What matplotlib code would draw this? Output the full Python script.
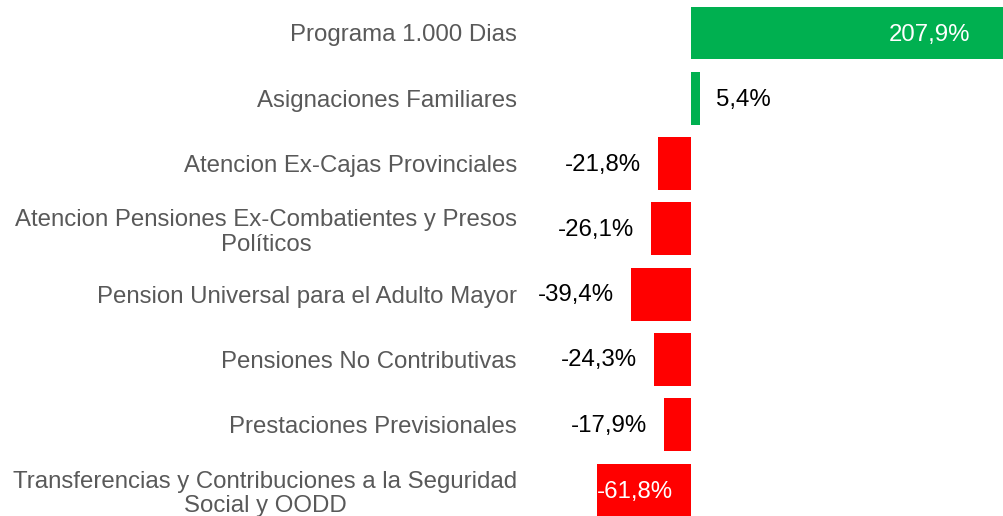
import matplotlib
matplotlib.use('Agg')
matplotlib.rcParams['font.family'] = ['Liberation Sans', 'DejaVu Sans']
import matplotlib.pyplot as plt

# ── data ─────────────────────────────────────────────────────────────────────
categories = [
    'Programa 1.000 Dias',
    'Asignaciones Familiares',
    'Atencion Ex-Cajas Provinciales',
    'Atencion Pensiones Ex-Combatientes y Presos\nPolíticos',
    'Pension Universal para el Adulto Mayor',
    'Pensiones No Contributivas',
    'Prestaciones Previsionales',
    'Transferencias y Contribuciones a la Seguridad\nSocial y OODD',
]
values = [207.9, 5.4, -21.8, -26.1, -39.4, -24.3, -17.9, -61.8]
value_labels = ['207,9%', '5,4%', '-21,8%', '-26,1%', '-39,4%', '-24,3%', '-17,9%', '-61,8%']

_GREEN = '#00B050'
_RED = '#FF0000'
_LABEL_GRAY = '#595959'
FS = 17.3

fig = plt.figure(figsize=(10.04, 5.16), dpi=100)
ax = fig.add_axes([530 / 1004, 0, 474 / 1004, 1])

y_pos = list(range(len(categories)))
colors = [_GREEN if v >= 0 else _RED for v in values]
ax.barh(y_pos, values, height=0.81, color=colors)

# the big green bar runs past the right edge, as in the original
ax.set_xlim(-105.2, 203.6)
ax.set_ylim(7.397, -0.505)

for i, (v, lab) in enumerate(zip(values, value_labels)):
    if i == 0:
        # large positive: white label inside, near the end
        ax.annotate(lab, xy=(v, i), xytext=(-40, -2), textcoords='offset pixels',
                    ha='right', va='center', color='white', fontsize=FS,
                    annotation_clip=False)
    elif v == min(values):
        # longest negative bar: label sits inside from its left edge
        ax.annotate(lab, xy=(v, i), xytext=(0, -2), textcoords='offset pixels',
                    ha='left', va='center', color='white', fontsize=FS)
    elif v >= 0:
        ax.annotate(lab, xy=(v, i), xytext=(16, -2), textcoords='offset pixels',
                    ha='left', va='center', color='black', fontsize=FS)
    else:
        ax.annotate(lab, xy=(v, i), xytext=(-17, -1), textcoords='offset pixels',
                    ha='right', va='center', color='black', fontsize=FS)

ax.set_yticks(y_pos)
ax.set_yticklabels(categories, fontsize=FS, color=_LABEL_GRAY,
                   multialignment='center', linespacing=1.15)
ax.tick_params(axis='y', length=0, pad=9.4)
ax.set_xticks([])
for sp in ax.spines.values():
    sp.set_visible(False)

fig.savefig('out.png', dpi=100, facecolor='white')
